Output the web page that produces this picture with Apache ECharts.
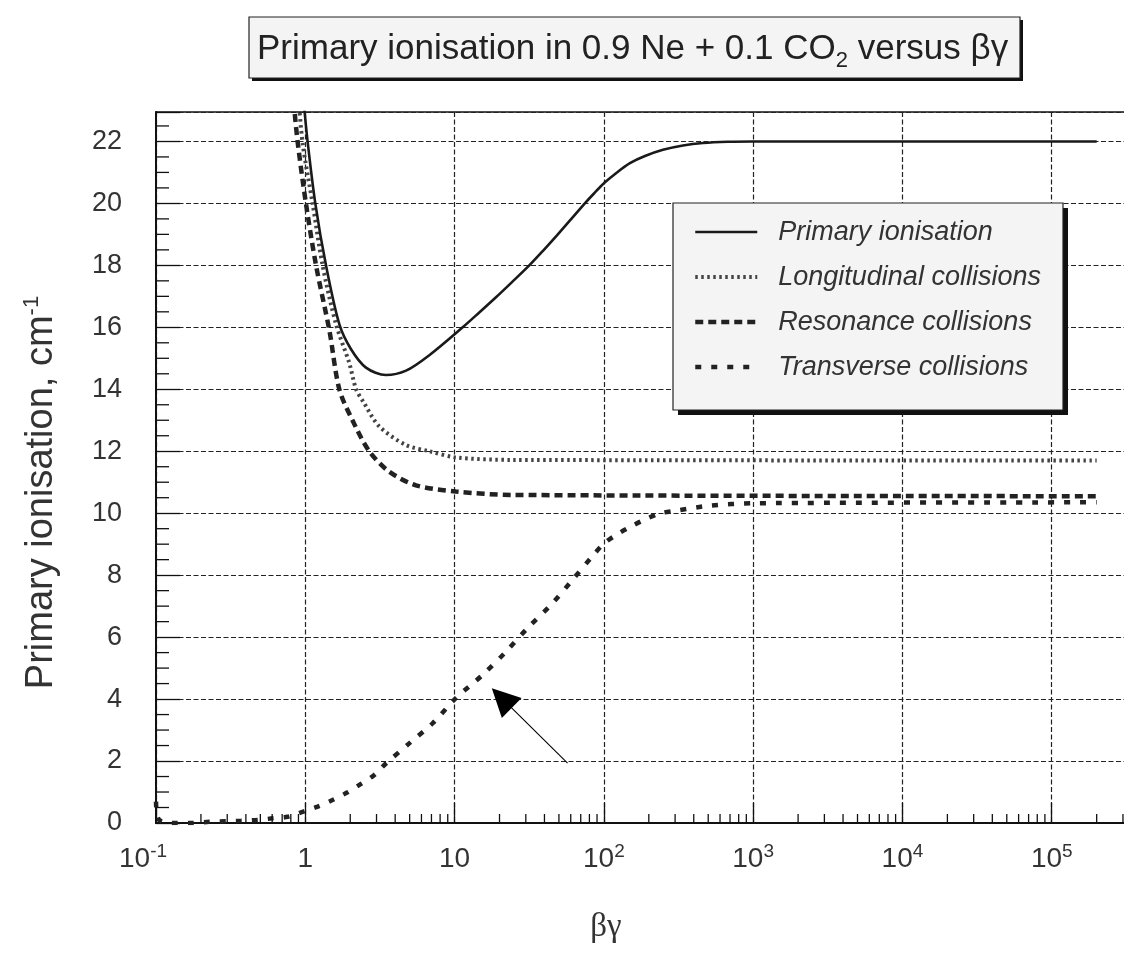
<!DOCTYPE html>
<html>
<head>
<meta charset="utf-8">
<script src="https://cdn.jsdelivr.net/npm/echarts@6/dist/echarts.min.js"></script>
<style>html,body{margin:0;padding:0;background:#fff}#c{width:1124px;height:958px}</style>
</head>
<body>
<div id="c"></div>
<script>
// ---- Data ----
const seriesNames = ['Primary ionisation', 'Longitudinal collisions', 'Resonance collisions', 'Transverse collisions'];

const primaryX = [0.975, 1.036, 1.167, 1.376, 1.69, 2.02, 2.55, 3.47, 4.73, 6.77, 11.33, 14.57, 18.94, 24.24, 31.65, 39.09, 48.5, 59.3, 73.56, 85.84, 101.7, 122.4, 149.5, 188.5, 248.8, 338.8, 461.2, 678.3, 997, 200000];
const primaryY = [23.3, 22.0, 20.0, 18.0, 16.1, 15.3, 14.7, 14.46, 14.6, 15.1, 16.0, 16.47, 16.97, 17.46, 18.0, 18.47, 18.97, 19.45, 19.97, 20.32, 20.68, 21.0, 21.3, 21.53, 21.73, 21.87, 21.95, 21.99, 22.0, 22.0];

const longX = [0.905, 0.959, 1.119, 1.306, 1.606, 1.97, 2.19, 2.48, 3.13, 4.73, 6.77, 10.2, 24.3, 200000];
const longY = [23.3, 21.95, 20.0, 18.0, 16.1, 14.85, 14.0, 13.55, 12.8, 12.2, 12.0, 11.8, 11.72, 11.7];

const resX = [0.835, 0.888, 1.01, 1.18, 1.45, 1.69, 2.07, 2.68, 3.65, 5.51, 10.2, 24.3, 200000];
const resY = [23.3, 22.0, 20.0, 18.0, 15.9, 14.0, 13.0, 12.0, 11.34, 10.9, 10.7, 10.59, 10.55];

const transX = [0.1, 0.105, 0.136, 0.175, 0.227, 0.371, 0.48, 0.604, 0.761, 0.959, 1.21, 1.52, 1.92, 2.36, 2.9, 3.47, 4.97, 7.13, 10.2, 15.4, 22.1, 30.8, 44.2, 61.7, 84, 100.6, 124, 152, 191, 240, 304, 508, 1016, 200000];
const transY = [0.69, 0.1, 0.0, 0.0, 0.04, 0.07, 0.1, 0.15, 0.2, 0.36, 0.53, 0.74, 0.99, 1.26, 1.55, 1.92, 2.57, 3.22, 4.03, 4.78, 5.53, 6.29, 7.04, 7.85, 8.62, 9.03, 9.33, 9.57, 9.81, 10.0, 10.08, 10.24, 10.32, 10.35];

// annotation arrow (tail -> head), in data coordinates
const arrowFrom = [57.1, 1.93];
const arrowTo = [20.7, 4.03];

// axis ranges / ticks
const xMin = 0.1, xMax = 4.15e5;
const yMin = 0, yMax = 22.95, yStep = 2;
const xDecades = [-1, 0, 1, 2, 3, 4, 5];
const xMinorMultipliers = [2, 3, 4, 5, 6, 7, 8, 9];
const yMinorStep = 0.5;

// ---- Build ----
const zip = (xs, ys) => xs.map((x, i) => [x, ys[i]]);
const xMinorTicks = [];
xDecades.forEach(d => xMinorMultipliers.forEach(m => {
  const v = m * Math.pow(10, d);
  if (v < xMax) xMinorTicks.push([v, yMin]);
}));
const yMinorTicks = [];
for (let v = yMin + yMinorStep; v < yMax; v += yMinorStep) {
  if (Math.abs(v / yStep - Math.round(v / yStep)) > 1e-6) yMinorTicks.push([xMin, v]);
}

const FONT = 'Liberation Sans';
const INK = '#1a1a1a';
const gridLine = { color: '#222', width: 1.2, type: [5, 2.5] };

const fmtX = v => {
  const e = Math.log10(v), r = Math.round(e);
  if (Math.abs(e - r) > 1e-6) return '';
  if (r === 0) return '1';
  if (r === 1) return '10';
  if (r < 0) return '10{sup|' + r + '}{pad|}';
  return '10{sup|' + r + '}';
};
const fmtY = v => {
  const r = Math.round(v);
  return (Math.abs(v - r) < 1e-6 && r % yStep === 0) ? String(r) : '';
};

// framed boxes (title box and legend box) with a hard drop shadow
const boxes = [
  { x: 249, y: 17, w: 771, h: 61, sh: 3 },
  { x: 673, y: 203, w: 390, h: 207, sh: 5 }
];
const graphicEls = [];
boxes.forEach(b => {
  graphicEls.push({ type: 'rect', z: 99, silent: true, shape: { x: b.x + b.sh, y: b.y + b.sh, width: b.w, height: b.h }, style: { fill: '#111' } });
  graphicEls.push({ type: 'rect', z: 100, silent: true, shape: { x: b.x, y: b.y, width: b.w, height: b.h }, style: { fill: '#f4f4f4', stroke: '#222', lineWidth: 1.2 } });
});

const chart = echarts.init(document.getElementById('c'), null, { renderer: 'canvas' });
const option = {
  animation: false,
  backgroundColor: '#ffffff',
  graphic: { elements: graphicEls },
  title: {
    text: 'Primary ionisation in 0.9 Ne + 0.1 CO{sub|2} versus βγ',
    left: 257, top: 26, padding: 0, z: 110,
    textStyle: {
      fontFamily: FONT, fontSize: 35, fontWeight: 'normal', color: '#222', lineHeight: 42,
      rich: { sub: { fontFamily: FONT, fontSize: 22, color: '#222', verticalAlign: 'bottom', lineHeight: 46 } }
    }
  },
  legend: {
    data: seriesNames,
    orient: 'vertical',
    left: 673, top: 203, z: 110,
    padding: [14, 20, 28, 20],
    itemGap: 15, itemWidth: 62, itemHeight: 14,
    selectedMode: false,
    itemStyle: { opacity: 0 },
    lineStyle: { width: 'inherit' },
    textStyle: { fontFamily: FONT, fontSize: 27, lineHeight: 30, fontStyle: 'italic', color: '#333', padding: [0, 0, 0, 16], width: 266 }
  },
  grid: {
    left: 156, right: -20, top: 112, bottom: 135,
    outerBoundsMode: 'none', containLabel: false,
    show: true, borderColor: '#111', borderWidth: 1.5, backgroundColor: 'transparent'
  },
  xAxis: {
    type: 'log', logBase: 10, min: xMin, max: xMax,
    axisLine: { show: true, onZero: false, lineStyle: { color: '#111', width: 2 } },
    axisTick: { show: true, inside: true, length: 20, lineStyle: { color: '#111', width: 1.3 } },
    minorTick: { show: false },
    splitLine: { show: true, lineStyle: gridLine },
    axisLabel: {
      interval: 0, margin: 19, color: '#333', fontFamily: FONT, fontSize: 28, lineHeight: 34,
      formatter: fmtX,
      rich: {
        sup: { fontFamily: FONT, fontSize: 19, color: '#333', verticalAlign: 'top', lineHeight: 34 },
        pad: { width: 26 }
      }
    },
    name: 'βγ', nameLocation: 'middle', nameGap: 88,
    nameTextStyle: { fontFamily: 'Liberation Serif', fontSize: 33, color: '#333', padding: [0, 88, 0, 0] }
  },
  yAxis: {
    type: 'value', min: yMin, max: yMax, interval: yStep,
    axisLine: { show: true, onZero: false, lineStyle: { color: '#111', width: 2 } },
    axisTick: { show: true, inside: true, length: 24, lineStyle: { color: '#111', width: 1.3 } },
    minorTick: { show: false },
    splitLine: { show: true, lineStyle: gridLine },
    axisLabel: { margin: 34, color: '#333', fontFamily: FONT, fontSize: 27, formatter: fmtY },
    name: 'Primary ionisation, cm{sup|-1}', nameLocation: 'middle', nameRotate: 90, nameGap: 93,
    nameTextStyle: {
      fontFamily: FONT, fontSize: 38, color: '#333', lineHeight: 42, padding: [0, 50, 0, 0],
      rich: { sup: { fontFamily: FONT, fontSize: 22, color: '#333', verticalAlign: 'top', lineHeight: 42 } }
    }
  },
  series: [
    {
      name: seriesNames[0], type: 'line', data: zip(primaryX, primaryY),
      symbol: 'none', showSymbol: false, smooth: 0.3, z: 4,
      lineStyle: { color: INK, width: 2.6, type: 'solid' }, itemStyle: { color: INK }
    },
    {
      name: seriesNames[1], type: 'line', data: zip(longX, longY),
      symbol: 'none', showSymbol: false, smooth: 0.3, z: 3,
      lineStyle: { color: '#444', width: 4, type: [2.5, 3.5] }, itemStyle: { color: '#444' }
    },
    {
      name: seriesNames[2], type: 'line', data: zip(resX, resY),
      symbol: 'none', showSymbol: false, smooth: 0.3, z: 3,
      lineStyle: { color: '#222', width: 4.5, type: [8, 5] }, itemStyle: { color: '#222' }
    },
    {
      name: seriesNames[3], type: 'line', data: zip(transX, transY),
      symbol: 'none', showSymbol: false, smooth: 0.3, z: 3,
      lineStyle: { color: '#222', width: 4.5, type: [6, 10] }, itemStyle: { color: '#222' },
      markLine: {
        silent: true, symbol: ['none', 'triangle'], symbolSize: 28,
        label: { show: false },
        lineStyle: { type: 'solid', color: '#000', width: 1.1 },
        data: [[{ coord: arrowFrom }, { coord: arrowTo }]]
      }
    },
    {
      type: 'custom', silent: true, z: 6, clip: false,
      data: xMinorTicks,
      renderItem: (params, api) => {
        const p = api.coord([api.value(0), api.value(1)]);
        return { type: 'line', shape: { x1: p[0], y1: p[1], x2: p[0], y2: p[1] - 9 }, style: { stroke: '#111', lineWidth: 1.3 } };
      }
    },
    {
      type: 'custom', silent: true, z: 6, clip: false,
      data: yMinorTicks,
      renderItem: (params, api) => {
        const p = api.coord([api.value(0), api.value(1)]);
        return { type: 'line', shape: { x1: p[0], y1: p[1], x2: p[0] + 13, y2: p[1] }, style: { stroke: '#111', lineWidth: 1.3 } };
      }
    }
  ]
};
chart.setOption(option);
</script>
</body>
</html>
